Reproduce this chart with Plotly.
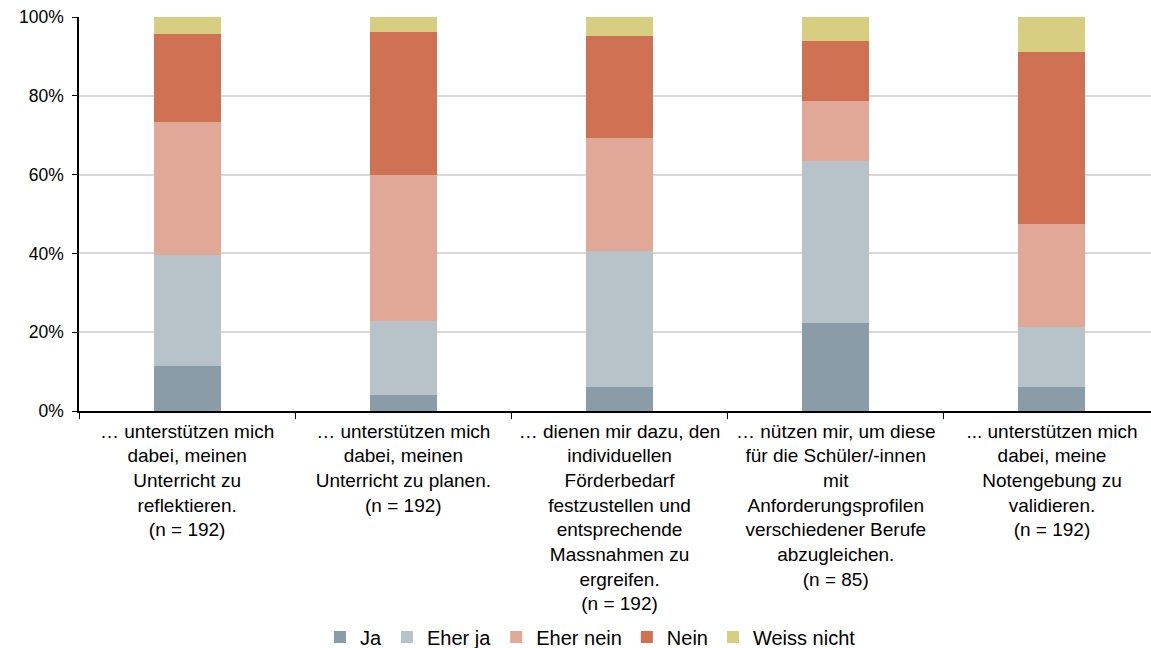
import plotly.graph_objects as go

categories = [
    "… unterstützen mich<br>dabei, meinen<br>Unterricht zu<br>reflektieren.<br>(n = 192)",
    "… unterstützen mich<br>dabei, meinen<br>Unterricht zu planen.<br>(n = 192)",
    "… dienen mir dazu, den<br>individuellen<br>Förderbedarf<br>festzustellen und<br>entsprechende<br>Massnahmen zu<br>ergreifen.<br>(n = 192)",
    "… nützen mir, um diese<br>für die Schüler/-innen<br>mit<br>Anforderungsprofilen<br>verschiedener Berufe<br>abzugleichen.<br>(n = 85)",
    "... unterstützen mich<br>dabei, meine<br>Notengebung zu<br>validieren.<br>(n = 192)",
]

ja = [11.5, 4.1, 6.2, 22.3, 6.2]
eher_ja = [28.0, 18.8, 34.4, 41.2, 15.0]
eher_nein = [33.9, 37.0, 28.7, 15.3, 26.3]
nein = [22.4, 36.3, 26.0, 15.2, 43.6]
weiss_nicht = [4.2, 3.8, 4.7, 6.0, 8.9]

series_names = ["Ja", "Eher ja", "Eher nein", "Nein", "Weiss nicht"]
series_values = [ja, eher_ja, eher_nein, nein, weiss_nicht]
colors = ["#8a9ca7", "#b7c3c8", "#e1a897", "#cf7152", "#d8ce82"]

FONT = "Liberation Sans, Arial, sans-serif"

fig = go.Figure()
for name, vals, col in zip(series_names, series_values, colors):
    fig.add_trace(go.Bar(
        x=categories, y=vals, name=name,
        marker=dict(color=col, line=dict(width=0)),
    ))

fig.update_layout(
    barmode="stack",
    bargap=0.69,
    width=1151, height=648,
    margin=dict(l=79, r=0, t=17, b=237, autoexpand=False),
    paper_bgcolor="white", plot_bgcolor="white",
    font=dict(family=FONT, size=19, color="#000000"),
    showlegend=True,
    legend=dict(
        orientation="h", xref="container", yref="container",
        x=0.513, xanchor="center", y=0.017, yanchor="middle",
        font=dict(size=20), itemwidth=30, traceorder="normal",
        bgcolor="rgba(0,0,0,0)",
    ),
)

fig.update_xaxes(
    type="category",
    range=[-0.5, 4.458],
    showline=True, linecolor="#000000", linewidth=1.5,
    ticks="outside", tickson="boundaries", ticklen=6, tickcolor="#000000",
    tickangle=0, tickfont=dict(size=19), ticklabelstandoff=2,
    showgrid=False, automargin=False,
)

fig.update_yaxes(
    range=[0, 100], dtick=20, ticksuffix="%",
    showline=True, linecolor="#000000", linewidth=1.5,
    ticks="outside", ticklen=5, tickcolor="#000000",
    ticklabelstandoff=5, tickfont=dict(size=17.5),
    showgrid=True, gridcolor="#d9d9d9", gridwidth=1.5,
    zeroline=False, automargin=False,
)

fig.write_html(
    "out.html",
    config={"displayModeBar": False},
    post_script="document.body.style.margin='0';document.body.style.overflow='hidden';",
)
